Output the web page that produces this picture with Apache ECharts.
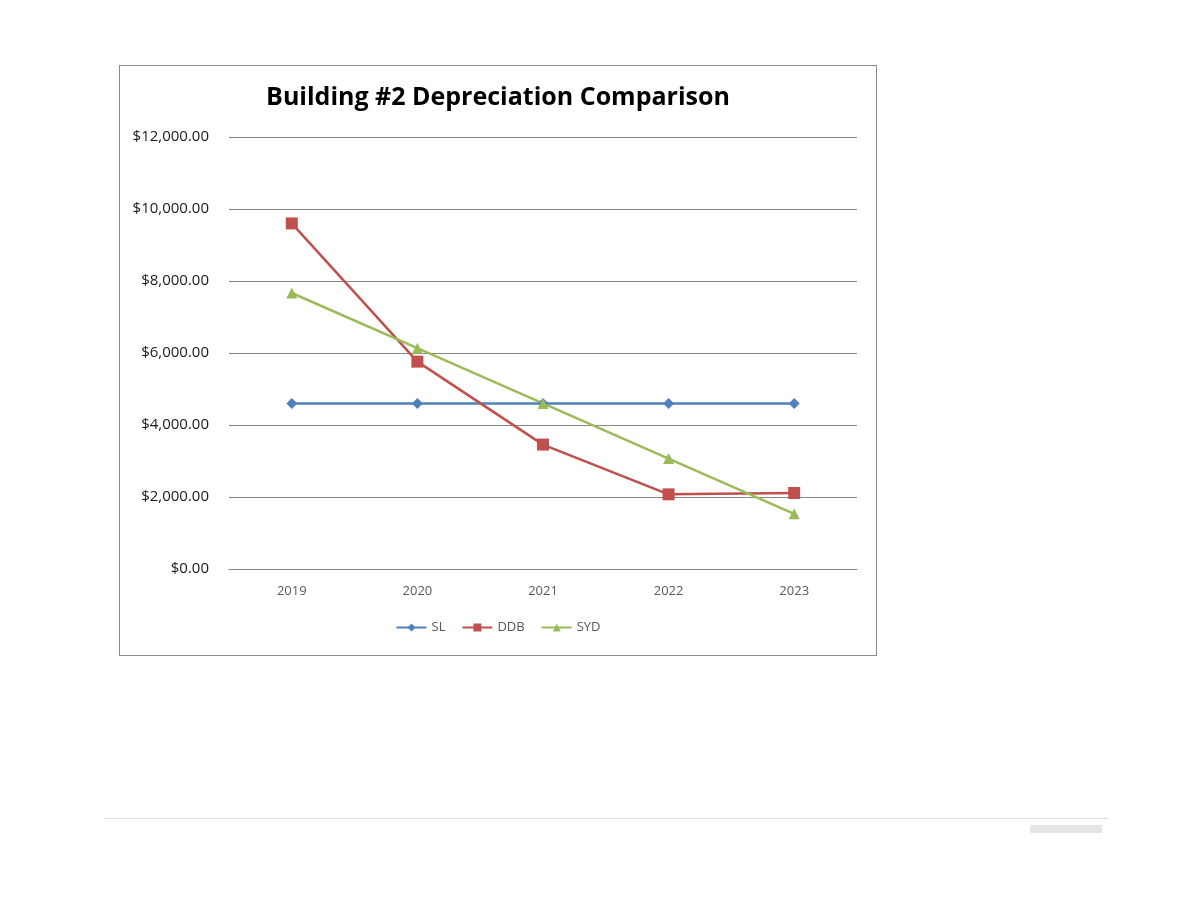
<!DOCTYPE html>
<html>
<head>
<meta charset="utf-8">
<script src="https://cdn.jsdelivr.net/npm/echarts@6/dist/echarts.min.js"></script>
<style>
  body { margin: 0; background: #fff; }
  #container { position: absolute; left: 119px; top: 65px; width: 756px; height: 589px; border: 1px solid #8c8c8c; }
  #rule { position: absolute; left: 104px; top: 818px; width: 1004px; height: 1px; background: #dcdcdc; }
  #stamp { position: absolute; left: 1030px; top: 825px; width: 72px; height: 8px; background: #e4e4e4; }
</style>
</head>
<body>
<div id="container"></div>
<div id="rule"></div>
<div id="stamp"></div>
<script>
    // years and depreciation per method
    var years = ['2019', '2020', '2021', '2022', '2023'];
    var slValues = [4600, 4600, 4600, 4600, 4600];
    var ddbValues = [9600, 5760, 3456, 2073.6, 2110.4];
    var sydValues = [7666.67, 6133.33, 4600, 3066.67, 1533.33];

    function money(v) {
        return '$' + v.toLocaleString('en-US', {minimumFractionDigits: 2, maximumFractionDigits: 2});
    }

    var option = {
        color: ['#4F81BD', '#C0504D', '#9BBB59'],
        title: {
            text: 'Building #2 Depreciation Comparison',
            left: 'center',
            top: 14,
            textStyle: {fontFamily: 'Open Sans', fontWeight: 'bold', fontSize: 25, color: '#000'}
        },
        legend: {
            bottom: 16,
            left: 'center',
            itemWidth: 30,
            itemHeight: 10,
            itemGap: 16,
            textStyle: {fontFamily: 'Open Sans', fontSize: 13, color: '#595959'},
            data: ['SL', 'DDB', 'SYD']
        },
        grid: {left: 109, right: 19, top: 71, bottom: 86},
        xAxis: {
            type: 'category',
            data: years,
            boundaryGap: true,
            axisLine: {lineStyle: {color: '#868686'}},
            axisTick: {show: false},
            axisLabel: {fontFamily: 'Open Sans', fontSize: 13, color: '#595959', margin: 16}
        },
        yAxis: {
            type: 'value',
            min: 0,
            max: 12000,
            interval: 2000,
            axisLine: {show: false},
            axisTick: {show: false},
            splitLine: {lineStyle: {color: '#868686', width: 1}},
            axisLabel: {fontFamily: 'Open Sans', fontSize: 15, color: '#1a1a1a', margin: 20, formatter: money}
        },
        series: [
            {name: 'SL', type: 'line', data: slValues, symbol: 'diamond', symbolSize: 11, lineStyle: {width: 2.5}},
            {name: 'DDB', type: 'line', data: ddbValues, symbol: 'rect', symbolSize: 12, lineStyle: {width: 2.5}},
            {name: 'SYD', type: 'line', data: sydValues, symbol: 'triangle', symbolSize: 11, lineStyle: {width: 2.5}}
        ]
    };
    var myChart = echarts.init(document.getElementById('container'));
    myChart.setOption(option);
</script>
</body>
</html>
